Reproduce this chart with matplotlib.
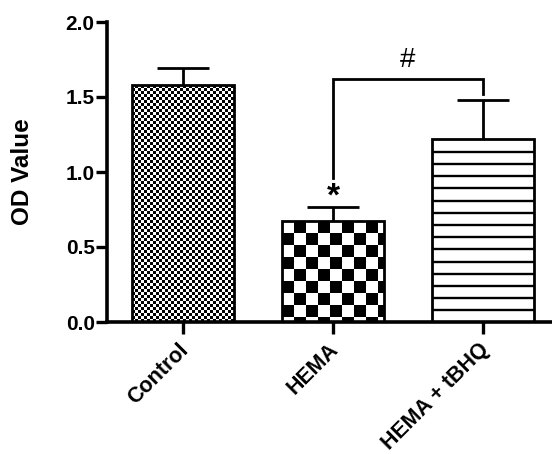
import numpy as np
import matplotlib
matplotlib.use("Agg")
import matplotlib.pyplot as plt
import matplotlib.transforms as mtransforms

categories = ["Control", "HEMA", "HEMA + tBHQ"]
means = [1.58, 0.673, 1.22]
errors = [0.115, 0.094, 0.26]
ylabel = "OD Value"
yticks = [0.0, 0.5, 1.0, 1.5, 2.0]
star_label = "*"
hash_label = "#"

plt.rcParams['font.family'] = ['Liberation Sans', 'DejaVu Sans']

fig = plt.figure(figsize=(5.52, 4.54), dpi=100)
ax = fig.add_axes([106.5/552, 1-322/454, 1-106.5/552, 300/454])
XLIM = (-0.51, 2.46)
ax.set_xlim(*XLIM)
ax.set_ylim(0, 2.0)

x = np.arange(len(categories))
width = 0.68
bars = ax.bar(x, means, width=width, facecolor='none', edgecolor='black', linewidth=2.0, zorder=3)

fig.canvas.draw()
tr = ax.transData
px_per_unit_y = tr.transform((0, 1))[1] - tr.transform((0, 0))[1]

def pattern(kind, w, h):
    xx, yy = np.meshgrid(np.arange(w), np.arange(h))
    if kind == 'fine':
        c = 3
        return ((xx // c + yy // c) % 2).astype(float)
    c = 12.0
    yt = h - 1 - yy
    return ((np.floor(xx / c) + np.floor(yt / c)) % 2).astype(float)

for b, k in zip(bars[:2], ['fine', 'coarse']):
    x0, y0 = b.get_x(), 0
    x1, y1 = b.get_x() + b.get_width(), b.get_height()
    p0 = tr.transform((x0, y0)); p1 = tr.transform((x1, y1))
    w = max(int(round(p1[0] - p0[0])), 1); h = max(int(round(p1[1] - p0[1])), 1)
    arr = pattern(k, w, h)
    ax.imshow(arr, cmap='gray_r', vmin=0, vmax=1, extent=(x0, x1, y0, y1),
              origin='lower', interpolation='nearest', aspect='auto', zorder=2)

# horizontal stripes for the third bar
b = bars[2]
spacing = 12.2 / px_per_unit_y
first = 11.6 / px_per_unit_y
ys = np.arange(first, b.get_height() - 0.5 * spacing, spacing)
ax.hlines(ys, b.get_x(), b.get_x() + b.get_width(), colors='black', lw=1.7, zorder=2)

ax.set_xlim(*XLIM)
ax.set_ylim(0, 2.0)

# error bars (upper only)
for xi, m, e in zip(x, means, errors):
    ax.plot([xi, xi], [m, m + e], color='black', lw=2.0, zorder=3, solid_capstyle='butt')
    ax.plot([xi - 0.175, xi + 0.175], [m + e, m + e], color='black', lw=2.0, zorder=3, solid_capstyle='butt')

# significance bracket
ax.plot([1, 1, 2, 2], [0.96, 1.62, 1.62, 1.52], color='black', lw=2.0, zorder=3, solid_joinstyle='miter')
ax.text(1.5, 1.745, hash_label, ha='center', va='center', fontsize=20)
ax.text(1.0, 0.83, star_label, ha='center', va='center', fontsize=24, fontweight='bold')

for s in ['top', 'right']:
    ax.spines[s].set_visible(False)
for s in ['left', 'bottom']:
    ax.spines[s].set_linewidth(2.6)
    ax.spines[s].set_zorder(4)

ax.set_yticks(yticks)
ax.set_yticklabels([f"{v:.1f}" for v in yticks], fontsize=15, fontweight='bold')
ax.set_xticks(x)
ax.set_xticklabels([])
base = mtransforms.blended_transform_factory(ax.transData, ax.transAxes)
offset = mtransforms.ScaledTranslation(-0.05, -0.175, fig.dpi_scale_trans)
for xi, lab in zip(x, categories):
    ax.text(xi, 0, lab, transform=base + offset, fontsize=15.5, fontweight='bold',
            rotation=45, ha='right', va='top', rotation_mode='anchor', clip_on=False)
ax.tick_params(axis='y', length=8, width=2.4, pad=0.5)
ax.tick_params(axis='x', length=8.5, width=2.4)
ax.set_ylabel(ylabel, fontsize=17.5, fontweight='bold', labelpad=23)

fig.savefig('out.png', dpi=100)
